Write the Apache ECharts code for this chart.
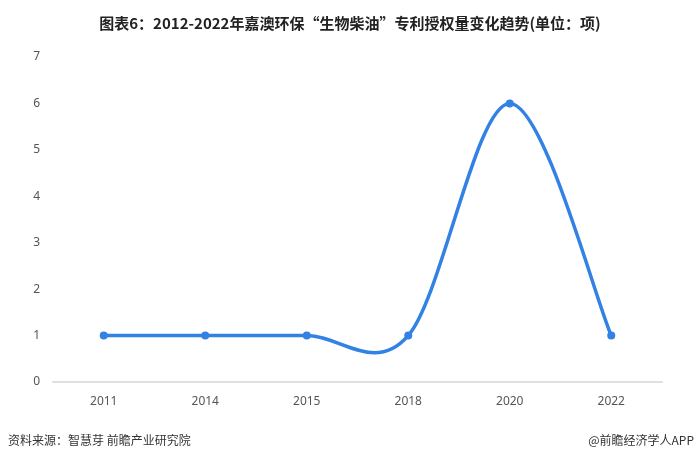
<!DOCTYPE html>
<html><head><meta charset="utf-8">
<script src="https://cdn.jsdelivr.net/npm/echarts@6/dist/echarts.min.js"></script>
<style>html,body{margin:0;padding:0;background:#fff;}#c{width:700px;height:462px;}</style>
</head><body><div id="c"></div>
<script>
var categories = ['2011','2014','2015','2018','2020','2022'];
var values = [1,1,1,1,6,1];
var yTicks = [0,1,2,3,4,5,6,7];
var LINE_COLOR = '#3281e4';
var chart = echarts.init(document.getElementById('c'));
var pts = values.map(function(v,i){return [i,v];});
function renderSeg(params, api){
  var i = params.dataIndex;
  if (i >= values.length - 1) return null;
  var n = values.length;
  function P(k){ k = Math.max(0, Math.min(n-1, k)); return api.coord([k, values[k]]); }
  var p0 = P(i-1), p1 = P(i), p2 = P(i+1), p3 = P(i+2);
  return {
    type:'bezierCurve',
    shape:{x1:p1[0],y1:p1[1],x2:p2[0],y2:p2[1],
      cpx1:p1[0]+(p2[0]-p0[0])/6, cpy1:p1[1]+(p2[1]-p0[1])/6,
      cpx2:p2[0]-(p3[0]-p1[0])/6, cpy2:p2[1]-(p3[1]-p1[1])/6},
    style:{stroke:LINE_COLOR,lineWidth:3.5,fill:null}
  };
}
chart.setOption({
  animation:false,
  backgroundColor:'#fff',
  title:{text:'图表6：2012-2022年嘉澳环保“生物柴油”专利授权量变化趋势(单位：项)',left:'center',top:11,
    textStyle:{fontSize:15,fontWeight:'bold',color:'#222',fontFamily:'Noto Sans CJK SC'}},
  graphic:[
    {type:'text',left:8,top:434,style:{text:'资料来源：智慧芽 前瞻产业研究院',fontSize:12,fill:'#333',fontFamily:'Noto Sans CJK SC'}},
    {type:'text',right:6,top:434,style:{text:'@前瞻经济学人APP',fontSize:12,fill:'#333',fontFamily:'Noto Sans CJK SC'}}
  ],
  grid:{left:53,right:38,top:57,bottom:80},
  xAxis:{type:'category',data:categories,boundaryGap:true,
    axisLine:{lineStyle:{color:'#e0e0e0',width:2}},axisTick:{show:false},
    axisLabel:{color:'#555',fontSize:12,margin:14,fontFamily:'Noto Sans'}},
  yAxis:{type:'value',min:0,max:7,interval:1,
    axisLine:{show:false},axisTick:{show:false},splitLine:{show:false},
    axisLabel:{color:'#555',fontSize:12,margin:13,fontFamily:'Noto Sans'}},
  series:[
    {type:'custom',data:pts,renderItem:renderSeg,encode:{x:0,y:1},z:2},
    {type:'scatter',data:values,symbol:'circle',symbolSize:8,itemStyle:{color:LINE_COLOR,opacity:1},z:3}
  ]
});
</script></body></html>
